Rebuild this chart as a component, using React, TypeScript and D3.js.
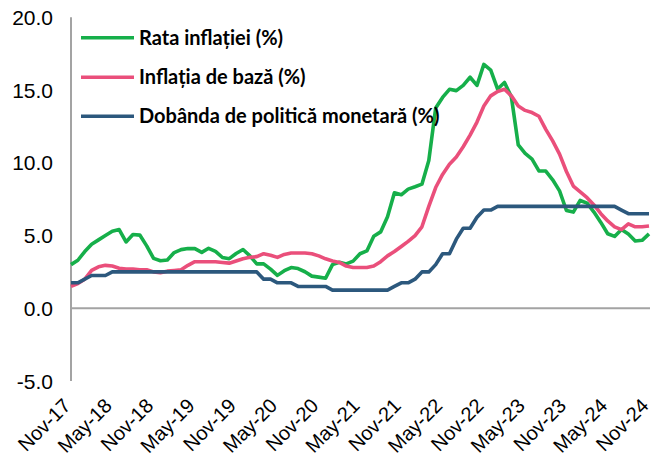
import React from "react";
import * as d3 from "d3";

const months = [
  "Nov-17","Dec-17",
  "Jan-18","Feb-18","Mar-18","Apr-18","May-18","Jun-18","Jul-18","Aug-18","Sep-18","Oct-18","Nov-18","Dec-18",
  "Jan-19","Feb-19","Mar-19","Apr-19","May-19","Jun-19","Jul-19","Aug-19","Sep-19","Oct-19","Nov-19","Dec-19",
  "Jan-20","Feb-20","Mar-20","Apr-20","May-20","Jun-20","Jul-20","Aug-20","Sep-20","Oct-20","Nov-20","Dec-20",
  "Jan-21","Feb-21","Mar-21","Apr-21","May-21","Jun-21","Jul-21","Aug-21","Sep-21","Oct-21","Nov-21","Dec-21",
  "Jan-22","Feb-22","Mar-22","Apr-22","May-22","Jun-22","Jul-22","Aug-22","Sep-22","Oct-22","Nov-22","Dec-22",
  "Jan-23","Feb-23","Mar-23","Apr-23","May-23","Jun-23","Jul-23","Aug-23","Sep-23","Oct-23","Nov-23","Dec-23",
  "Jan-24","Feb-24","Mar-24","Apr-24","May-24","Jun-24","Jul-24","Aug-24","Sep-24","Oct-24","Nov-24",
];

const tickLabels = [
  "Nov-17","May-18","Nov-18","May-19","Nov-19","May-20","Nov-20","May-21",
  "Nov-21","May-22","Nov-22","May-23","Nov-23","May-24","Nov-24",
];

const yTicks = [-5, 0, 5, 10, 15, 20];

// Rata inflației (%)
const inflation = [
  3.0, 3.3,
  3.9, 4.4, 4.7, 5.0, 5.3, 5.41, 4.56, 5.07, 5.03, 4.29, 3.43, 3.27,
  3.32, 3.83, 4.03, 4.11, 4.10, 3.84, 4.12, 3.91, 3.49, 3.41, 3.76, 4.04,
  3.60, 3.05, 3.05, 2.69, 2.26, 2.58, 2.80, 2.73, 2.51, 2.21, 2.14, 2.06,
  3.00, 3.16, 3.05, 3.24, 3.75, 3.94, 4.95, 5.25, 6.29, 7.94, 7.80, 8.19,
  8.35, 8.53, 10.15, 13.76, 14.49, 15.05, 14.96, 15.32, 15.88, 15.32, 16.76, 16.37,
  15.07, 15.52, 14.53, 11.23, 10.64, 10.25, 9.44, 9.43, 8.83, 8.07, 6.72, 6.61,
  7.41, 7.23, 6.61, 5.90, 5.12, 4.94, 5.42, 5.10, 4.62, 4.67, 5.11,
];

// Inflația de bază (%)
const coreInflation = [
  1.5, 1.7,
  2.0, 2.6, 2.85, 2.95, 2.9, 2.75, 2.7, 2.7, 2.65, 2.65, 2.5, 2.45,
  2.55, 2.6, 2.65, 2.95, 3.2, 3.2, 3.2, 3.2, 3.15, 3.1, 3.25, 3.4,
  3.5, 3.55, 3.75, 3.65, 3.5, 3.7, 3.8, 3.8, 3.8, 3.75, 3.6, 3.4,
  3.25, 3.15, 2.9, 2.8, 2.8, 2.8, 2.9, 3.2, 3.6, 3.9, 4.25, 4.6,
  5.0, 5.6, 7.0, 8.3, 9.2, 9.9, 10.4, 11.1, 11.9, 12.8, 13.9, 14.6,
  14.9, 15.05, 14.6, 13.9, 13.6, 13.45, 13.2, 12.3, 11.5, 10.6, 9.4, 8.4,
  8.0, 7.6, 7.1, 6.5, 6.0, 5.6, 5.4, 5.8, 5.6, 5.6, 5.65,
];

// Dobânda de politică monetară (%)
const policyRate = [
  1.75, 1.75,
  2.0, 2.25, 2.25, 2.25, 2.5, 2.5, 2.5, 2.5, 2.5, 2.5, 2.5, 2.5,
  2.5, 2.5, 2.5, 2.5, 2.5, 2.5, 2.5, 2.5, 2.5, 2.5, 2.5, 2.5,
  2.5, 2.5, 2.0, 2.0, 1.75, 1.75, 1.75, 1.5, 1.5, 1.5, 1.5, 1.5,
  1.25, 1.25, 1.25, 1.25, 1.25, 1.25, 1.25, 1.25, 1.25, 1.5, 1.75, 1.75,
  2.0, 2.5, 2.5, 3.0, 3.75, 3.75, 4.75, 5.5, 5.5, 6.25, 6.75, 6.75,
  7.0, 7.0, 7.0, 7.0, 7.0, 7.0, 7.0, 7.0, 7.0, 7.0, 7.0, 7.0,
  7.0, 7.0, 7.0, 7.0, 7.0, 7.0, 6.75, 6.5, 6.5, 6.5, 6.5,
];

const seriesNames = ["Rata inflației (%)", "Inflația de bază (%)", "Dobânda de politică monetară (%)"];
const seriesColors = ["#16AF4A", "#EA4F7B", "#2C587D"];
const seriesData = [inflation, coreInflation, policyRate];

const W = 652;
const H = 459;

export default function App() {
  const x = d3.scalePoint<string>().domain(months).range([71, 649]);
  const y = d3.scaleLinear().domain([-5, 20]).range([381, 17.3]);

  const line = d3
    .line<number>()
    .x((_, i) => x(months[i]) as number)
    .y((d) => y(d));

  const axisColor = "#A3A3A3";
  const axisFont = "'Liberation Sans', Arial, sans-serif";
  const legendFont = "Lato, 'Open Sans', sans-serif";

  return (
    <svg
      width={W}
      height={H}
      viewBox={`0 0 ${W} ${H}`}
      style={{ position: "absolute", left: 0, top: 0, background: "#fff" }}
    >
      {/* y axis line */}
      <line x1={71} x2={71} y1={y(20)} y2={y(-5)} stroke={axisColor} strokeWidth={2} />
      {/* zero line (category axis) */}
      <line x1={71} x2={650} y1={y(0)} y2={y(0)} stroke={axisColor} strokeWidth={2} />

      {/* y tick labels */}
      {yTicks.map((t) => (
        <text
          key={t}
          x={53}
          y={y(t)}
          dy="0.36em"
          textAnchor="end"
          fontFamily={axisFont}
          fontSize={21}
          fill="#000"
        >
          {t.toFixed(1)}
        </text>
      ))}

      {/* x tick labels */}
      {tickLabels.map((lab) => {
        const ax = (x(lab) as number) - 4;
        const ay = 402;
        return (
          <text
            key={lab}
            x={ax}
            y={ay}
            dy="0.35em"
            textAnchor="end"
            fontFamily={axisFont}
            fontSize={20}
            fill="#000"
            transform={`rotate(-45, ${ax}, ${ay})`}
          >
            {lab}
          </text>
        );
      })}

      {/* series */}
      {seriesData.map((data, i) => (
        <path
          key={seriesNames[i]}
          d={line(data) || ""}
          fill="none"
          stroke={seriesColors[i]}
          strokeWidth={3.6}
          strokeLinejoin="round"
          strokeLinecap="butt"
        />
      ))}

      {/* legend */}
      {seriesNames.map((name, i) => {
        const ly = [37.7, 77.3, 116.3][i];
        return (
          <g key={name}>
            <line x1={81} x2={134} y1={ly} y2={ly} stroke={seriesColors[i]} strokeWidth={3.6} />
            <text
              x={139}
              y={ly + 7}
              fontFamily={legendFont}
              fontWeight={700}
              fontSize={20}
              fill="#000"
            >
              {name}
            </text>
          </g>
        );
      })}
    </svg>
  );
}
